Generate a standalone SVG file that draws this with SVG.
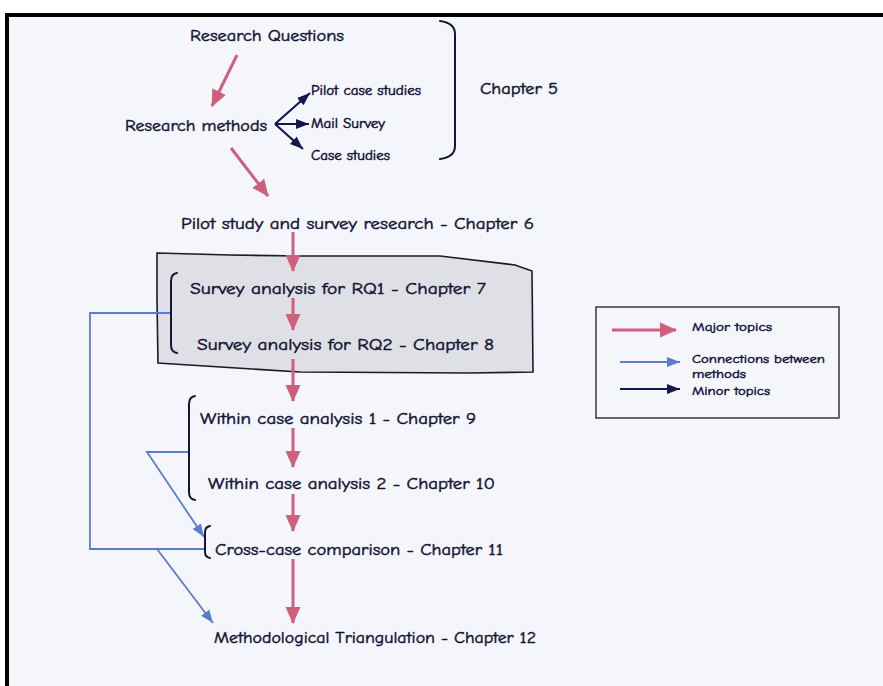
<svg xmlns="http://www.w3.org/2000/svg" width="883" height="686" viewBox="0 0 883 686">
  <defs>
    <style>
      .t { font-family: "Comic Sans MS", "Comic Neue", "DejaVu Sans", sans-serif; fill: #121234; stroke: #121234; stroke-width: 0.45; }
      .main { font-size: 16px; }
      .minor { font-size: 13px; }
      .leg { font-size: 12.5px; }
      .major { stroke: #cf5f7c; stroke-width: 3; fill: none; }
      .link { stroke: #5b7ccc; stroke-width: 1.8; fill: none; }
      .minorline { stroke: #15184f; stroke-width: 2.2; fill: none; }
      .brace { stroke: #15153a; stroke-width: 2; fill: none; stroke-linecap: round; }
    </style>
    <marker id="arrMajor" markerUnits="userSpaceOnUse" markerWidth="18" markerHeight="18" viewBox="0 0 18 18" refX="16" refY="9" orient="auto">
      <path d="M0,1.5 L17,9 L0,16.5 Z" fill="#cf5f7c"/>
    </marker>
    <marker id="arrLink" markerUnits="userSpaceOnUse" markerWidth="14" markerHeight="14" viewBox="0 0 14 14" refX="13" refY="7" orient="auto">
      <path d="M0,2 L13,7 L0,12 Z" fill="#5b7ccc"/>
    </marker>
    <marker id="arrMinor" markerUnits="userSpaceOnUse" markerWidth="14" markerHeight="14" viewBox="0 0 14 14" refX="13" refY="7" orient="auto">
      <path d="M0,2 L13,7 L0,12 Z" fill="#15184f"/>
    </marker>
  </defs>

  <!-- page background and frame -->
  <rect x="0" y="0" width="883" height="686" fill="#ffffff"/>
  <rect x="7" y="15" width="876" height="671" fill="#f4f6fb"/>
  <line x1="5" y1="15" x2="883" y2="15" stroke="#000" stroke-width="4"/>
  <line x1="7" y1="13" x2="7" y2="686" stroke="#000" stroke-width="4"/>

  <!-- shaded survey-analysis panel -->
  <g id="survey-panel">
    <path d="M157,253 L230,255 L300,256 L440,256 L515,265 L532,271 L533,372 L470,373 L300,372 L158,363 L157,300 Z" fill="#dfe0e6" stroke="#1a1a2a" stroke-width="1.6"/>
  </g>

  <!-- connectors -->
  <g id="connectors">
    <!-- major topic flow -->
    <line class="major" x1="237" y1="55" x2="212" y2="106" marker-end="url(#arrMajor)"/>
    <line class="major" x1="231" y1="148" x2="268" y2="196" marker-end="url(#arrMajor)"/>
    <line class="major" x1="293" y1="232" x2="293" y2="271" marker-end="url(#arrMajor)"/>
    <line class="major" x1="293" y1="298" x2="293" y2="330" marker-end="url(#arrMajor)"/>
    <line class="major" x1="293" y1="359" x2="293" y2="401" marker-end="url(#arrMajor)"/>
    <line class="major" x1="293" y1="428" x2="293" y2="467" marker-end="url(#arrMajor)"/>
    <line class="major" x1="293" y1="494" x2="293" y2="531" marker-end="url(#arrMajor)"/>
    <line class="major" x1="293" y1="559" x2="293" y2="623" marker-end="url(#arrMajor)"/>

    <!-- minor topics from research methods -->
    <line class="minorline" x1="275" y1="124" x2="310" y2="93" marker-end="url(#arrMinor)"/>
    <line class="minorline" x1="275" y1="124" x2="309" y2="124" marker-end="url(#arrMinor)"/>
    <line class="minorline" x1="275" y1="124" x2="303" y2="149" marker-end="url(#arrMinor)"/>

    <!-- connections between methods -->
    <polyline class="link" points="171,313 90,313 90,549 204,549"/>
    <polyline class="link" points="189,452 147,452 204,537" marker-end="url(#arrLink)"/>
    <line class="link" x1="157" y1="549" x2="213" y2="623" marker-end="url(#arrLink)"/>
  </g>

  <!-- braces -->
  <g id="braces">
    <path class="brace" d="M440,21 Q455,23 455,34 L455,146 Q455,157 440,159"/>
    <path class="brace" d="M177,273 Q171,274 171,281 L171,345 Q171,352 177,353"/>
    <path class="brace" d="M195,396 Q189,397 189,404 L189,492 Q189,499 195,500"/>
    <path class="brace" d="M210,526 Q205,527 205,532 L205,552 Q205,557 210,558"/>
  </g>

  <g id="research-questions">
    <text class="t main" x="190" y="41" textLength="154" lengthAdjust="spacingAndGlyphs">Research Questions</text>
  </g>
  <g id="research-methods">
    <text class="t main" x="125" y="131" textLength="142" lengthAdjust="spacingAndGlyphs">Research methods</text>
  </g>
  <g id="pilot-case-studies">
    <text class="t minor" x="311" y="95" textLength="110" lengthAdjust="spacingAndGlyphs">Pilot case studies</text>
  </g>
  <g id="mail-survey">
    <text class="t minor" x="311" y="128" textLength="74" lengthAdjust="spacingAndGlyphs">Mail Survey</text>
  </g>
  <g id="case-studies">
    <text class="t minor" x="311" y="160" textLength="79" lengthAdjust="spacingAndGlyphs">Case studies</text>
  </g>
  <g id="chapter-5">
    <text class="t main" x="480" y="94" textLength="78" lengthAdjust="spacingAndGlyphs">Chapter 5</text>
  </g>
  <g id="chapter-6">
    <text class="t main" x="181" y="229" textLength="353" lengthAdjust="spacingAndGlyphs">Pilot study and survey research - Chapter 6</text>
  </g>
  <g id="chapter-7">
    <text class="t main" x="190" y="294" textLength="296" lengthAdjust="spacingAndGlyphs">Survey analysis for RQ1 - Chapter 7</text>
  </g>
  <g id="chapter-8">
    <text class="t main" x="197" y="350" textLength="297" lengthAdjust="spacingAndGlyphs">Survey analysis for RQ2 - Chapter 8</text>
  </g>
  <g id="chapter-9">
    <text class="t main" x="200" y="424" textLength="276" lengthAdjust="spacingAndGlyphs">Within case analysis 1 - Chapter 9</text>
  </g>
  <g id="chapter-10">
    <text class="t main" x="208" y="489" textLength="287" lengthAdjust="spacingAndGlyphs">Within case analysis 2 - Chapter 10</text>
  </g>
  <g id="chapter-11">
    <text class="t main" x="215" y="555" textLength="288" lengthAdjust="spacingAndGlyphs">Cross-case comparison - Chapter 11</text>
  </g>
  <g id="chapter-12">
    <text class="t main" x="214" y="643" textLength="322" lengthAdjust="spacingAndGlyphs">Methodological Triangulation - Chapter 12</text>
  </g>

  <!-- key -->
  <g id="legend">
    <rect x="596" y="307" width="243" height="111" fill="#f4f6fb" stroke="#2a2a2a" stroke-width="1.4"/>
    <line class="major" x1="612" y1="330" x2="676" y2="330" marker-end="url(#arrMajor)"/>
    <text class="t leg" x="692" y="331" textLength="80" lengthAdjust="spacingAndGlyphs">Major topics</text>
    <line class="link" x1="620" y1="362" x2="680" y2="362" marker-end="url(#arrLink)"/>
    <text class="t leg" x="692" y="363" textLength="133" lengthAdjust="spacingAndGlyphs">Connections between</text>
    <text class="t leg" x="692" y="378" textLength="54" lengthAdjust="spacingAndGlyphs">methods</text>
    <line class="minorline" x1="620" y1="389" x2="680" y2="389" marker-end="url(#arrMinor)"/>
    <text class="t leg" x="692" y="395" textLength="78" lengthAdjust="spacingAndGlyphs">Minor topics</text>
  </g>
</svg>
